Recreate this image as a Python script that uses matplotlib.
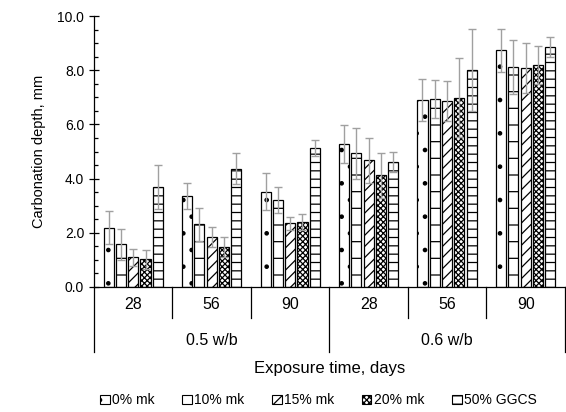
import matplotlib
matplotlib.use("Agg")
import matplotlib.pyplot as plt
import numpy as np
from matplotlib.patches import Patch
from matplotlib.ticker import MultipleLocator, FormatStrFormatter

plt.rcParams["font.family"] = ["Liberation Sans", "DejaVu Sans"]
plt.rcParams["hatch.linewidth"] = 0.9

days = ["28", "56", "90", "28", "56", "90"]
wb_groups = ["0.5 w/b", "0.6 w/b"]
mixes = ["0% mk", "10% mk", "15% mk", "20% mk", "50% GGCS"]

mk0 = [2.19, 3.37, 3.52, 5.29, 6.90, 8.73]
mk10 = [1.58, 2.32, 3.21, 4.93, 6.94, 8.11]
mk15 = [1.09, 1.86, 2.35, 4.67, 6.86, 8.07]
mk20 = [1.02, 1.48, 2.39, 4.12, 6.99, 8.18]
ggcs = [3.70, 4.37, 5.12, 4.61, 8.01, 8.86]

err_mk0 = [0.60, 0.48, 0.67, 0.70, 0.76, 0.80]
err_mk10 = [0.57, 0.61, 0.49, 0.93, 0.70, 0.99]
err_mk15 = [0.31, 0.37, 0.25, 0.82, 0.74, 0.92]
err_mk20 = [0.35, 0.38, 0.29, 0.84, 1.45, 0.70]
err_ggcs = [0.81, 0.56, 0.29, 0.36, 1.50, 0.38]

values = [mk0, mk10, mk15, mk20, ggcs]
errors = [err_mk0, err_mk10, err_mk15, err_mk20, err_ggcs]
hatches = [".", "-", "///", "xxxxxx", "--"]

fs = 10
pitch = 0.157
width = 0.128

fig = plt.figure(figsize=(5.66, 4.12), dpi=100)
ax = fig.add_axes([0.166, 0.3034, 0.832, 0.6576])

x = np.arange(len(days))
for i, (vals, errs, h) in enumerate(zip(values, errors, hatches)):
    pos = x + (i - 2) * pitch
    ax.bar(pos, vals, width, color="white", edgecolor="black", hatch=h,
           linewidth=0.9, zorder=2)
    ax.errorbar(pos, vals, yerr=errs, fmt="none", ecolor="#a0a0a0",
                elinewidth=1.0, capsize=3, capthick=1.0, zorder=3)

ax.set_xlim(-0.5, len(days) - 0.5)
ax.set_ylim(0, 10)
ax.yaxis.set_major_locator(MultipleLocator(2))
ax.yaxis.set_minor_locator(MultipleLocator(0.5))
ax.yaxis.set_major_formatter(FormatStrFormatter("%.1f"))
ax.tick_params(axis="y", which="major", direction="inout", length=7, width=0.9,
               labelsize=fs)
ax.tick_params(axis="y", which="minor", direction="in", length=3, width=0.9)
ax.set_xticks([])
for s in ["top", "right"]:
    ax.spines[s].set_visible(False)
ax.spines["left"].set_linewidth(0.9)
ax.spines["bottom"].set_linewidth(0.9)
ax.set_ylabel("Carbonation depth, mm", fontsize=10.5, labelpad=8)

# category axis: separators and labels
tr = ax.get_xaxis_transform()
for b in np.arange(-0.5, len(days), 1.0):
    depth = -0.24 if b in (-0.5, 2.5, 5.5) else -0.115
    ax.plot([b, b], [0, depth], color="black", lw=0.9, transform=tr,
            clip_on=False)
for xi, d in zip(x, days):
    ax.text(xi, -0.066, d, transform=tr, ha="center", va="center", fontsize=11.5)
for gi, g in enumerate(wb_groups):
    ax.text(gi * 3 + 1, -0.198, g, transform=tr, ha="center", va="center",
            fontsize=11.5)
ax.text(2.5, -0.3, "Exposure time, days", transform=tr, ha="center",
        va="center", fontsize=12)

handles = [Patch(facecolor="white", edgecolor="black", hatch=h, linewidth=0.8)
           for h in hatches]
fig.legend(handles, mixes, loc="center", bbox_to_anchor=(0.562, 0.028),
           ncol=5, frameon=False, fontsize=fs, handlelength=0.7,
           handleheight=0.7, handletextpad=0.15, columnspacing=2.0)

fig.savefig("out.png", dpi=100)
